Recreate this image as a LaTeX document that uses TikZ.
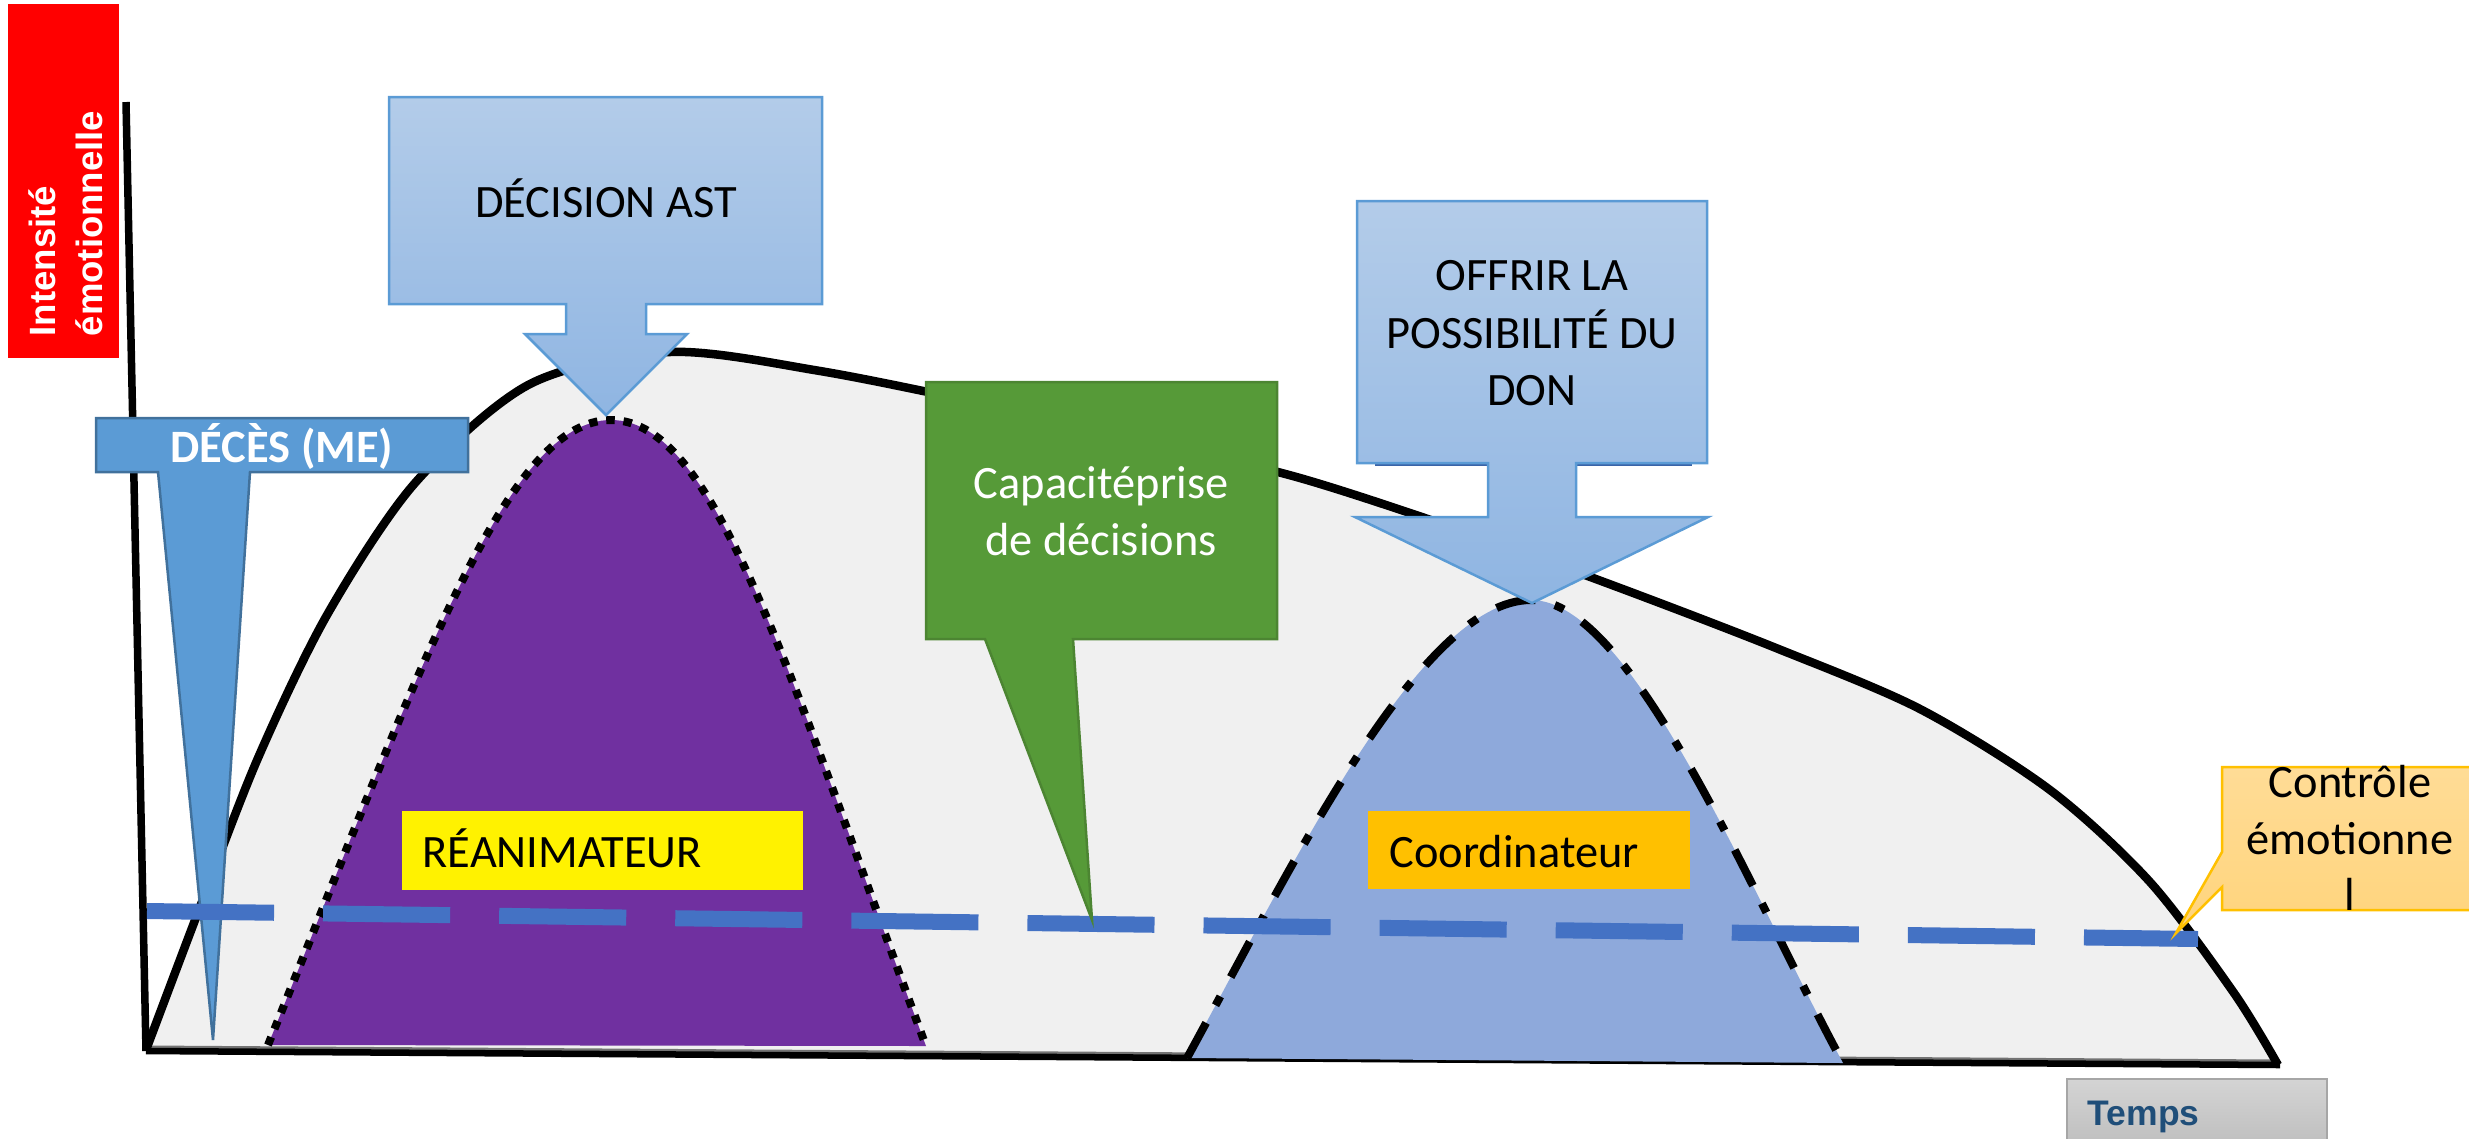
\documentclass[tikz,border=0pt]{standalone}
\usepackage{fontspec}
\setmainfont{Carlito}
\newfontfamily\arialf{Liberation Sans}
\definecolor{curvefill}{HTML}{F0F0F0}
\definecolor{purplebell}{HTML}{7030A0}
\definecolor{bluebell}{HTML}{8EA9DB}
\definecolor{levelblue}{HTML}{4472C4}
\definecolor{arrowtop}{HTML}{B3CCE9}
\definecolor{arrowbot}{HTML}{8FB5E2}
\definecolor{arrowedge}{HTML}{5B9BD5}
\definecolor{decesfill}{HTML}{5B9BD5}
\definecolor{decesedge}{HTML}{41719C}
\definecolor{greenfill}{HTML}{569A38}
\definecolor{greenedge}{HTML}{4C8532}
\definecolor{ctrltop}{HTML}{FFDC96}
\definecolor{ctrlbot}{HTML}{FFD47C}
\definecolor{ctrledge}{HTML}{FFC000}
\definecolor{orangebox}{HTML}{FFC000}
\definecolor{tempstop}{HTML}{D4D4D4}
\definecolor{tempsbot}{HTML}{BDBDBD}
\definecolor{tempsedge}{HTML}{A6A6A6}
\definecolor{tempstext}{HTML}{1F4E79}
\definecolor{shadowblue}{HTML}{3A64A8}
\begin{document}
\begin{tikzpicture}[x=0.01cm,y=-0.01cm,
  axisline/.style={line width=0.065cm, black},
  curveline/.style={line width=0.085cm, black, line join=round},
  dotborder/.style={line width=0.08cm, black, dash pattern=on 0.085cm off 0.088cm},
  dashdotborder/.style={line width=0.08cm, black, dash pattern=on 0.40cm off 0.20cm on 0.10cm off 0.22cm},
  levelline/.style={line width=0.16cm, levelblue, dash pattern=on 1.27cm off 0.49cm},
  calloutblue/.style={top color=arrowtop, bottom color=arrowbot, draw=arrowedge, line width=0.025cm},
  lab/.style={font=\fontsize{13.2}{16}\selectfont, inner sep=0pt},
  labbox/.style={inner sep=0pt}]
\useasboundingbox (0,0) rectangle (2469,1138);

\def\curvepts{(146,1050) (200,907) (258,758) (327,615) (415,483) (530,384) (670,352) (820,371) (980,403) (1140,439) (1300,478) (1460,530) (1620,588) (1776,648) (1920,709) (2050,790) (2150,882) (2234,993) (2278,1065)}

% main emotional curve
\fill[curvefill] plot[smooth, tension=0.5] coordinates {\curvepts} -- cycle;

% axes
\coordinate (O) at (146,1051);
\coordinate (Ytop) at (126,102);
\coordinate (Xend) at (2280,1065);
\draw[gray!90!black, line width=0.03cm] (150,1047) -- (2278,1061);
\draw[axisline] (O) -- (Xend);
\draw[line width=0.075cm] (Ytop) -- (O);

\draw[curveline] plot[smooth, tension=0.5] coordinates {\curvepts};

% purple bell (reanimateur)
\coordinate (pL) at (268,1045);
\coordinate (pT) at (611,420);
\coordinate (pR) at (926,1046);
\fill[purplebell] (pL) .. controls (418,674) and (505,420) .. (pT) .. controls (717,420) and (788,674) .. (pR) -- cycle;
\draw[dotborder] (pL) .. controls (418,674) and (505,420) .. (pT) .. controls (717,420) and (788,674) .. (pR);

% light blue bell (coordinateur)
\coordinate (bL) at (1187,1058);
\coordinate (bT) at (1531,600);
\coordinate (bR) at (1843,1063);
\fill[bluebell] (bL) .. controls (1290,870) and (1420,600) .. (bT) .. controls (1632,600) and (1750,891) .. (bR) -- cycle;
\draw[dashdotborder] (bL) .. controls (1290,870) and (1420,600) .. (bT) .. controls (1632,600) and (1750,891) .. (bR);

% role boxes
\fill[yellow] (402,811) rectangle (803,890);
\node[lab, anchor=base west] (rea) at (422,867) {RÉANIMATEUR};
\fill[orangebox] (1368,811) rectangle (1690,889);
\node[lab, anchor=base west] (coord) at (1389,867) {Coordinateur};

% DECES callout
\path[fill=decesfill, draw=decesedge, line width=0.025cm] (96,418) -- (468,418) -- (468,472) -- (250,472) -- (213,1040) -- (158,472) -- (96,472) -- cycle;
\node[lab, anchor=base, text=white, font=\fontsize{13.2}{16}\selectfont\bfseries] (deces) at (282,462) {DÉCÈS (ME)};

% dashed emotional control level
\coordinate (L1) at (147,911);
\coordinate (L2) at (2198,939);
\draw[levelline] (L1) -- (L2);

% green callout
\path[fill=greenfill, draw=greenedge, line width=0.025cm] (926,382) -- (1277,382) -- (1277,639) -- (1073,639) -- (1092,920) -- (985,639) -- (926,639) -- cycle;
\node[lab, anchor=base, text=white] (cap1) at (1101,498) {Capacitéprise};
\node[lab, anchor=base, text=white] (cap2) at (1101,555) {de décisions};

% DECISION AST arrow callout
\path[calloutblue] (389,97) -- (822,97) -- (822,304) -- (646,304) -- (646,334) -- (687,334) -- (606,415) -- (525,334) -- (566,334) -- (566,304) -- (389,304) -- cycle;
\node[lab, anchor=base] (ast) at (606,217) {DÉCISION AST};

% OFFRIR arrow callout
\draw[shadowblue, line width=0.025cm] (1375,465) -- (1488,465);
\draw[shadowblue, line width=0.025cm] (1576,465) -- (1692,465);
\path[calloutblue] (1357,201) -- (1707,201) -- (1707,463) -- (1576,463) -- (1576,517) -- (1708,517) -- (1532,603) -- (1355,517) -- (1488,517) -- (1488,463) -- (1357,463) -- cycle;
\node[lab, anchor=base] (off1) at (1532,290) {OFFRIR LA};
\node[lab, anchor=base] (off2) at (1532,348) {POSSIBILITÉ DU};
\node[lab, anchor=base] (off3) at (1532,405) {DON};

% controle emotionnel callout
\path[top color=ctrltop, bottom color=ctrlbot, draw=ctrledge, line width=0.025cm] (2222,767) -- (2485,767) -- (2485,910) -- (2222,910) -- (2222,887) -- (2176,933) -- (2222,852) -- cycle;
\node[lab, anchor=base] (ctl1) at (2350,797) {Contrôle};
\node[lab, anchor=base] (ctl2) at (2350,854) {émotionne};
\node[lab, anchor=base] (ctl3) at (2350,910) {l};

% axis labels
\fill[red] (8,4) rectangle (119,358);
\node[labbox, rotate=90, anchor=base west, text=white, font=\arialf\bfseries\fontsize{10.4}{12}\selectfont] (int1) at (55,337) {Intensité};
\node[labbox, rotate=90, anchor=base west, text=white, font=\arialf\bfseries\fontsize{10.4}{12}\selectfont] (int2) at (102,337) {émotionnelle};

\path[top color=tempstop, bottom color=tempsbot, draw=tempsedge, line width=0.025cm] (2067,1079) rectangle (2327,1150);
\node[labbox, anchor=base west, text=tempstext, font=\arialf\bfseries\fontsize{10.1}{12}\selectfont] (temps) at (2087,1125) {Temps};
\end{tikzpicture}
\end{document}
